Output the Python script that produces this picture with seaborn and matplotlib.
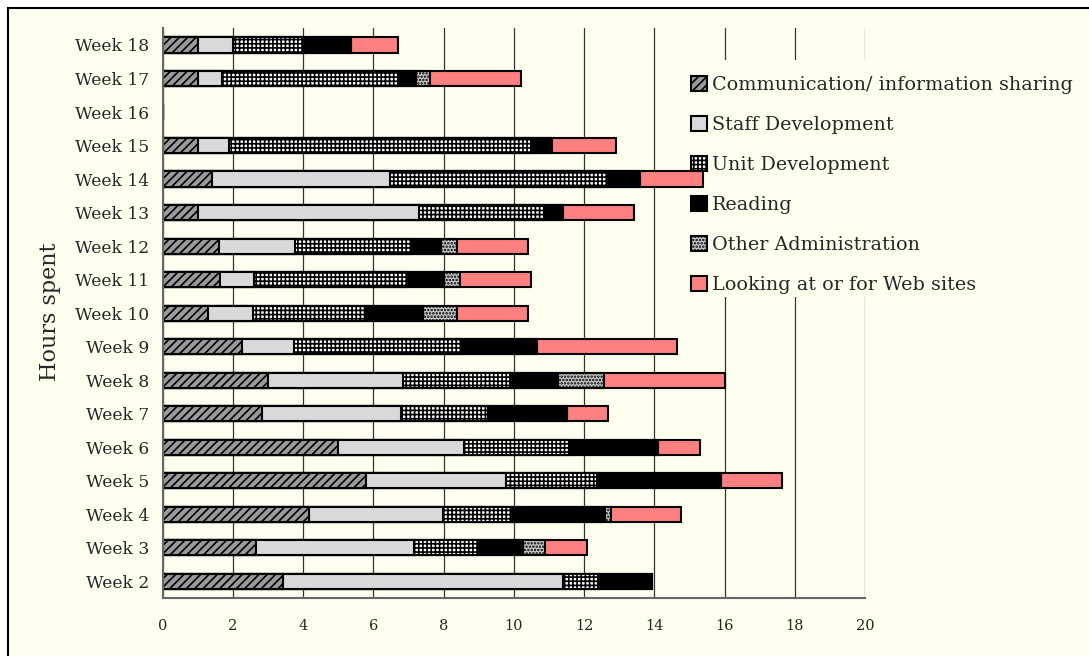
import numpy as np
import pandas as pd
import matplotlib
matplotlib.use("Agg")
import matplotlib.pyplot as plt
from matplotlib.patches import Patch, Rectangle
from matplotlib.ticker import FixedLocator
import seaborn as sns

weeks = ["Week 18", "Week 17", "Week 16", "Week 15", "Week 14", "Week 13",
         "Week 12", "Week 11", "Week 10", "Week 9", "Week 8", "Week 7",
         "Week 6", "Week 5", "Week 4", "Week 3", "Week 2"]

comm = [1.0, 1.0, 0, 1.0, 1.4, 1.0, 1.6, 1.63, 1.29, 2.26, 3.0, 2.82, 5.0, 5.8, 4.16, 2.67, 3.43]
staff = [1.0, 0.7, 0, 0.88, 5.07, 6.29, 2.18, 0.98, 1.29, 1.48, 3.83, 3.98, 3.58, 3.98, 3.82, 4.49, 7.97]
unit = [2.0, 5.0, 0, 8.6, 6.2, 3.6, 3.28, 4.36, 3.2, 4.76, 3.05, 2.46, 3.0, 2.58, 1.97, 1.82, 0.99]
reading = [1.36, 0.5, 0, 0.55, 0.93, 0.52, 0.86, 1.04, 1.63, 2.15, 1.39, 2.25, 2.52, 3.55, 2.65, 1.28, 1.54]
other = [0, 0.4, 0, 0.07, 0, 0, 0.46, 0.47, 0.97, 0, 1.29, 0, 0, 0, 0.17, 0.63, 0]
web = [1.33, 2.6, 0, 1.8, 1.8, 2.0, 2.02, 2.0, 2.02, 4.0, 3.44, 1.18, 1.2, 1.74, 2.0, 1.19, 0]

series_names = ["Communication/ information sharing", "Staff Development",
                "Unit Development", "Reading", "Other Administration",
                "Looking at or for Web sites"]
series_vals = [comm, staff, unit, reading, other, web]
styles = [
    dict(color="#9a9a9a", hatch="////"),
    dict(color="#d9d9d9", hatch=None),
    dict(color="#ffffff", hatch="++++"),
    dict(color="#000000", hatch=None),
    dict(color="#c8c8c8", hatch="....."),
    dict(color="#ff8080", hatch=None),
]
x_ticks = [0, 2, 4, 6, 8, 10, 12, 14, 16, 18, 20]

BG = "#fffff0"
sns.set_style("white")
plt.rcParams["font.family"] = ["DejaVu Serif"]
plt.rcParams["hatch.linewidth"] = 1.2

fig = plt.figure(figsize=(10.89, 6.56), dpi=100, facecolor="white")
fig.patches.append(Rectangle((8 / 1089, -0.1), 1.5, 1.1 - 8 / 656,
                             transform=fig.transFigure, facecolor=BG,
                             edgecolor="black", linewidth=1.5, zorder=-10))
ax = fig.add_axes([0.1494, 0.0884, 0.7943 - 0.1494, 0.957 - 0.0884])
ax.set_facecolor("none")

cum = np.zeros(len(weeks))
cums = []
for vals in series_vals:
    cum = cum + np.array(vals, dtype=float)
    cums.append(cum.copy())
for name, c, st in reversed(list(zip(series_names, cums, styles))):
    d = pd.DataFrame({"week": weeks, "hours": c})
    sns.barplot(data=d, x="hours", y="week", orient="h", order=weeks,
                color=st["color"], saturation=1, width=0.45, errorbar=None,
                edgecolor="black", linewidth=1.5, hatch=st["hatch"], ax=ax)

ax.set_xlim(0, 20)
ax.set_ylim(len(weeks) - 0.5, -0.5)
ax.set_xticks(x_ticks)
ax.set_xticklabels([str(t) for t in x_ticks], fontsize=10.5)
ax.set_yticklabels(weeks, fontsize=12.3)
ax.set_xlabel("")
ax.set_ylabel("")
ax.xaxis.grid(True, color="#333333", linewidth=0.9)
ax.set_axisbelow(True)
for s in ["top", "right"]:
    ax.spines[s].set_visible(False)
for s in ["left", "bottom"]:
    ax.spines[s].set_color("#666666")
    ax.spines[s].set_linewidth(1.5)
ax.tick_params(axis="y", which="major", length=0, pad=9.5)
ax.yaxis.set_minor_locator(FixedLocator(np.arange(-0.5, len(weeks), 1.0)))
ax.tick_params(axis="y", which="minor", length=6, width=1.2, color="#444444", direction="out")
ax.tick_params(axis="x", which="major", length=5, width=1.2, color="#444444", direction="out", pad=10)

# blank backing behind legend: hides gridlines but stays below bars
ax.add_patch(Rectangle((0.745, 0.528), 0.3, 0.944 - 0.528, transform=ax.transAxes,
                       facecolor=BG, edgecolor="none", zorder=0.8, clip_on=False))

handles = [Patch(facecolor=st["color"], hatch=st["hatch"], edgecolor="black",
                 linewidth=1.5, label=n) for n, st in zip(series_names, styles)]
leg = fig.legend(handles=handles, loc="upper left",
                 bbox_to_anchor=(687 / 1089, 1 - 72 / 656),
                 frameon=False, fontsize=13.8, handlelength=0.85, handleheight=0.85,
                 handletextpad=0.25, labelspacing=1.13, borderpad=0.2,
                 borderaxespad=0)

fig.text(50 / 1089, 1 - 312 / 656, "Hours spent", rotation=90,
         ha="center", va="center", fontsize=16)

fig.savefig("out.png", dpi=100, facecolor=fig.get_facecolor())
